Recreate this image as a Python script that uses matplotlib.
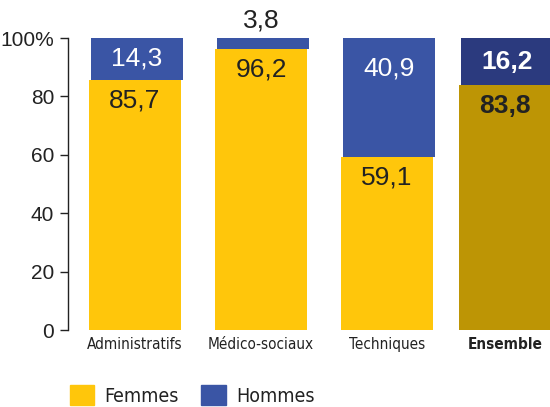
import matplotlib
matplotlib.use("Agg")
import matplotlib.pyplot as plt
from matplotlib.patches import Patch

categories = ["Administratifs", "Médico-sociaux", "Techniques", "Ensemble"]
femmes = [85.7, 96.2, 59.1, 83.8]
hommes = [14.3, 3.8, 40.9, 16.2]
femmes_labels = ["85,7", "96,2", "59,1", "83,8"]
hommes_labels = ["14,3", "3,8", "40,9", "16,2"]
yticks = [0, 20, 40, 60, 80, 100]
ytick_labels = ["0", "20", "40", "60", "80", "100%"]

YELLOW = "#FFC60B"
BLUE = "#3A55A5"
DARK_YELLOW = "#BD9505"
DARK_BLUE = "#2B3A7E"
TXT = "#222222"

sans = ["Liberation Sans", "DejaVu Sans"]

fig = plt.figure(figsize=(5.5, 4.07), dpi=100)
ax = fig.add_axes([68/550, 1-330/407, 1-68/550, (330-38)/407])

x = [0, 1, 2, 2.937]
w = 0.725
fcol = [YELLOW, YELLOW, YELLOW, DARK_YELLOW]
hcol = [BLUE, BLUE, BLUE, DARK_BLUE]
ax.bar(x, femmes, width=w, color=fcol, linewidth=0)
ax.bar([xi + 0.015 for xi in x], hommes, bottom=femmes, width=w, color=hcol, linewidth=0)

for i in range(len(categories)):
    f = femmes[i]
    h = hommes[i]
    bold = "bold" if i == 3 else "normal"
    ax.text(x[i], f - 7.0, femmes_labels[i], ha="center", va="center",
            fontsize=19, color=TXT, family=sans, fontweight=bold)
    if h < 8:
        ax.text(x[i], 100 + 6, hommes_labels[i], ha="center", va="center",
                fontsize=19, color=TXT, family=sans, clip_on=False)
    else:
        yc = 100 - min(h / 2, 10.5)
        ax.text(x[i] + 0.015, yc, hommes_labels[i], ha="center", va="center",
                fontsize=19, color="white", family=sans, fontweight=bold)

ax.set_xlim(-0.532, 3.294)
ax.set_ylim(0, 100)
ax.set_yticks(yticks)
ax.set_yticklabels(ytick_labels, fontsize=15, color=TXT, family=sans)
ax.set_xticks(x)
ax.set_xticklabels(categories, fontsize=11, color=TXT, family="DejaVu Sans",
                   fontstretch="condensed")
ax.get_xticklabels()[3].set_fontweight("bold")
ax.tick_params(axis="x", length=0, pad=5)
ax.tick_params(axis="y", length=6, width=1, color=TXT, pad=4, direction="out")
for s in ["top", "right", "bottom"]:
    ax.spines[s].set_visible(False)
ax.spines["left"].set_color(TXT)
ax.spines["left"].set_linewidth(1)

handles = [Patch(color=YELLOW, label="Femmes"), Patch(color=BLUE, label="Hommes")]
leg = fig.legend(handles=handles, loc="lower left", bbox_to_anchor=(52/550, -0.04),
                 ncol=2, frameon=False,
                 prop={"family": "DejaVu Sans", "stretch": "condensed", "size": 14},
                 handlelength=1.25, handleheight=1.2, handletextpad=0.55, columnspacing=1.15)
for t in leg.get_texts():
    t.set_color(TXT)

fig.savefig("out.png", dpi=100)
